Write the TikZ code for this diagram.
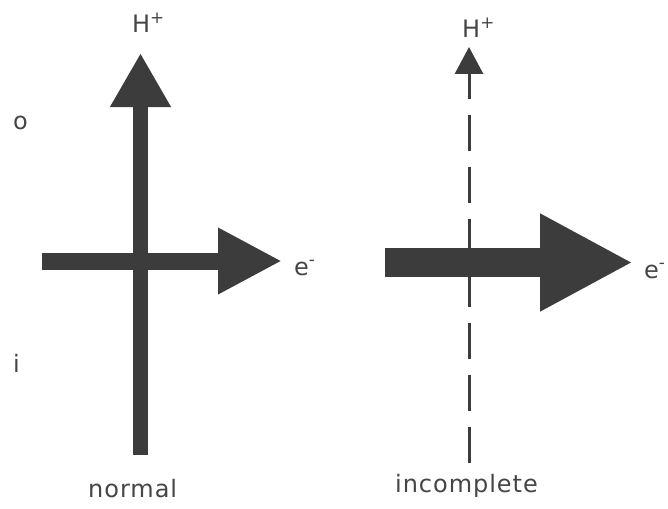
\documentclass[tikz,border=0pt]{standalone}
\usepackage{fontspec}
\newfontfamily\lblfont[LetterSpace=4]{DejaVu Sans}
\usetikzlibrary{arrows.meta}
\definecolor{arrowgray}{HTML}{3C3C3C}
\definecolor{textgray}{HTML}{454545}

\begin{document}
\begin{tikzpicture}[x=1pt, y=-1pt, line cap=butt,
	every node/.style={font=\lblfont\fontsize{24}{28}\selectfont, text=textgray, inner sep=0pt},
	fat/.style={draw=arrowgray, line width=#1},
	flux/.style={draw=arrowgray, line width=3pt, dash pattern=on 36pt off 16pt}]
	\useasboundingbox (0,0) rectangle (668,508);
	% normal coupling
	\coordinate (nbot) at (140.5,455);
	\coordinate (ntop) at (140.5,53);
	\coordinate (nleft) at (42,261);
	\coordinate (nright) at (282,261);
	\draw[fat=15pt, -{Triangle[length=54pt,width=57pt]}] (nbot) -- (ntop);
	\draw[fat=17pt, -{Triangle[length=64pt,width=62pt]}] (nleft) -- (nright);
	% incomplete coupling
	\coordinate (ibot) at (469,463);
	\coordinate (itop) at (469,47);
	\coordinate (ileft) at (385,262.5);
	\coordinate (iright) at (633,262.5);
	\draw[fat=29pt, -{Triangle[length=93pt,width=91pt]}] (ileft) -- (iright);
	\draw[flux, -{Triangle[length=27pt,width=28pt]}] (ibot) -- (itop);
	% labels
	\node[anchor=base west] (nH) at (132,33) {H\textsuperscript{+}};
	\node[anchor=base west] (ne) at (294,275) {e\textsuperscript{-}};
	\node[anchor=base west] (iH) at (462,38) {H\textsuperscript{+}};
	\node[anchor=base west] (ie) at (644,278) {e\textsuperscript{-}};
	\node[anchor=base west] (out) at (13,129) {o};
	\node[anchor=base west] (in) at (13,372) {i};
	\node[anchor=base west] (nlab) at (88,497) {normal};
	\node[anchor=base west] (ilab) at (395,492) {incomplete};
\end{tikzpicture}
\end{document}
